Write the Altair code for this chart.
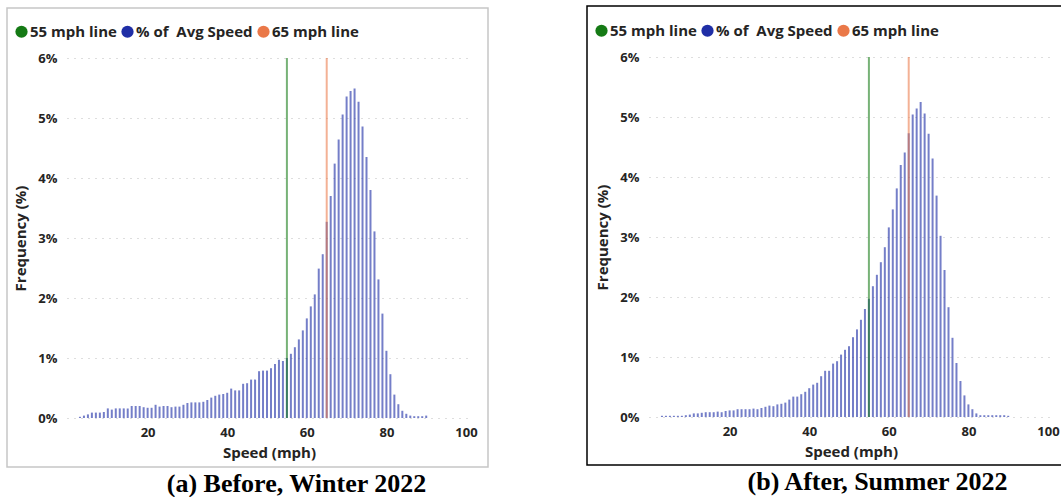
import altair as alt
import pandas as pd

# ---- data ----
speeds = list(range(3, 91))

winter_pct = [0.02, 0.04, 0.06, 0.09, 0.09, 0.09, 0.10, 0.16, 0.14, 0.16, 0.16, 0.16, 0.16, 0.20, 0.20,
              0.20, 0.18, 0.17, 0.17, 0.22, 0.19, 0.20, 0.20, 0.18, 0.19, 0.19, 0.22, 0.25, 0.26, 0.26,
              0.26, 0.27, 0.30, 0.34, 0.37, 0.39, 0.40, 0.42, 0.49, 0.46, 0.46, 0.57, 0.58, 0.64, 0.64,
              0.78, 0.79, 0.79, 0.83, 0.90, 0.97, 0.95, 1.00, 1.07, 1.18, 1.31, 1.46, 1.66, 1.86, 2.06,
              2.49, 2.73, 3.27, 3.70, 4.24, 4.64, 5.06, 5.36, 5.45, 5.49, 5.27, 4.86, 4.35, 3.80, 3.11,
              2.31, 1.74, 1.12, 0.73, 0.39, 0.23, 0.12, 0.07, 0.04, 0.03, 0.03, 0.03, 0.04]

summer_pct = [0.02, 0.02, 0.02, 0.02, 0.02, 0.02, 0.03, 0.04, 0.06, 0.06, 0.07, 0.08, 0.08, 0.08, 0.09,
              0.08, 0.10, 0.11, 0.11, 0.13, 0.13, 0.13, 0.13, 0.14, 0.13, 0.15, 0.17, 0.19, 0.18, 0.21,
              0.22, 0.24, 0.29, 0.34, 0.34, 0.38, 0.42, 0.48, 0.54, 0.57, 0.68, 0.77, 0.77, 0.89, 0.93,
              1.04, 1.12, 1.18, 1.33, 1.46, 1.62, 1.80, 1.97, 2.18, 2.37, 2.58, 2.83, 3.16, 3.46, 3.81,
              4.20, 4.41, 4.73, 5.04, 5.14, 5.25, 5.06, 4.72, 4.31, 3.69, 3.02, 2.45, 1.83, 1.32, 0.90,
              0.60, 0.36, 0.21, 0.13, 0.06, 0.03, 0.03, 0.03, 0.03, 0.03, 0.03, 0.03, 0.02]

ref_speeds = [55, 65]
ref_labels = ["55 mph line", "65 mph line"]
series_labels = ["55 mph line", "% of\u00a0 Avg Speed", "65 mph line"]
series_colors = ["#157a15", "#1f2ea6", "#ea7848"]
y_ticks = [0, 1, 2, 3, 4, 5, 6]
x_ticks = [20, 40, 60, 80, 100]
captions = ["(a) Before, Winter 2022", "(b) After, Summer 2022"]

FONT = "Open Sans"
TXT = "#252423"
CW, CH = 1061, 497   # canvas


def panel(values, caption, frame_color, frame, xr, yr, legend_xy, cap_xy):
    fx0, fy0, fx1, fy1 = frame
    bars_df = pd.DataFrame({"speed": speeds, "pct": values, "series": series_labels[1]})
    ref_df = pd.DataFrame({"speed": ref_speeds, "series": ref_labels})

    color = alt.Color(
        "series:N",
        scale=alt.Scale(domain=series_labels, range=series_colors),
        legend=alt.Legend(
            title=None, orient="none", legendX=legend_xy[0], legendY=legend_xy[1],
            direction="horizontal", symbolType="circle", symbolSize=150, symbolOpacity=1,
            symbolStrokeWidth=0, labelFont=FONT, labelFontSize=15, labelFontWeight="bold",
            labelColor=TXT, labelOffset=1, columnPadding=3, padding=0,
        ),
    )
    x = alt.X(
        "speed:Q",
        scale=alt.Scale(domain=[1, 100], range=xr, nice=False, zero=False),
        axis=alt.Axis(
            orient="bottom", values=x_ticks, offset=-(CH - yr[0]), grid=False, domain=False,
            ticks=False, labelPadding=8, labelFont=FONT, labelFontSize=13,
            labelFontWeight="bold", labelColor=TXT, title="Speed (mph)", titleFont=FONT,
            titleFontSize=15, titleFontWeight="bold", titleColor=TXT, titlePadding=6,
        ),
    )
    y = alt.Y(
        "pct:Q",
        scale=alt.Scale(domain=[0, 6], range=yr, nice=False),
        axis=alt.Axis(
            orient="left", values=y_ticks, labelExpr="datum.value + '%'", offset=-xr[0],
            grid=True, gridDash=[1, 6], gridColor="#bdbdbd", domain=False, ticks=False,
            labelPadding=10, labelFont=FONT, labelFontSize=13, labelFontWeight="bold",
            labelColor=TXT, title="Frequency (%)", titleFont=FONT, titleFontSize=15,
            titleFontWeight="bold", titleColor=TXT, titlePadding=9,
        ),
    )
    bars = alt.Chart(bars_df).mark_bar(size=2, fillOpacity=0.62).encode(x=x, y=y, color=color)
    rules = alt.Chart(ref_df).mark_rule(strokeWidth=2, strokeOpacity=0.58).encode(
        x=alt.X("speed:Q", title="Speed (mph)"),
        y=alt.datum(0),
        y2=alt.datum(6),
        color=alt.Color("series:N"),
    )
    box = alt.Chart(alt.Data(values=[{"k": 1}])).mark_rect(
        fill="transparent", stroke=frame_color, strokeWidth=1.5
    ).encode(x=alt.value(fx0), x2=alt.value(fx1), y=alt.value(fy0), y2=alt.value(fy1))
    cap = alt.Chart(pd.DataFrame({"caption": [caption]})).mark_text(
        font="Liberation Serif", fontSize=26, fontWeight="bold", color="black",
        align="center", baseline="alphabetic",
    ).encode(text="caption:N", x=alt.value(cap_xy[0]), y=alt.value(cap_xy[1]))
    return alt.layer(box, bars, rules, cap)


left = panel(winter_pct, captions[0], "#c6c6c6", (7, 8, 488, 467),
             [67, 471], [418, 58], (14, 24), (296.5, 492))
right = panel(summer_pct, captions[1], "#000000", (587, 6, 1068, 465),
              [649, 1053], [417, 57], (594, 23), (877.5, 490))

chart = (
    alt.layer(left, right)
    .resolve_scale(x="independent", y="independent", color="independent")
    .resolve_axis(x="independent", y="independent")
    .resolve_legend(color="independent")
    .properties(width=CW, height=CH, padding=0, background="white",
                autosize=alt.AutoSizeParams(type="none"))
    .configure_view(stroke=None)
)

chart.save("out.html", embed_options={"renderer": "svg", "actions": False})
